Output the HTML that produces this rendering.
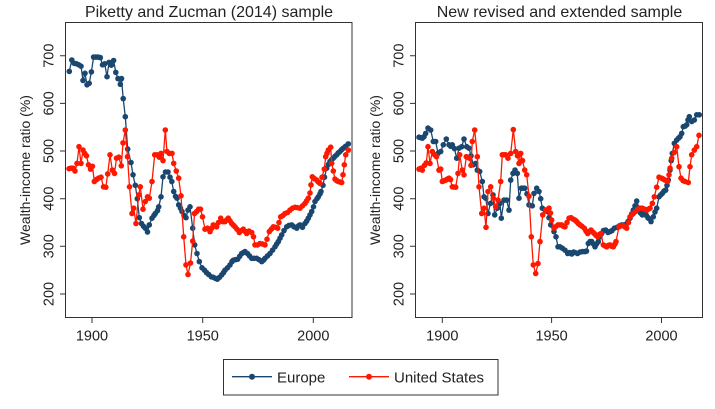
<!DOCTYPE html>
<html>
<head>
<meta charset="utf-8">
<style>
  html,body{margin:0;padding:0;background:#fff;}
  svg{display:block;}
  text{font-family:"Liberation Sans",Arial,sans-serif;fill:#222;}
</style>
</head>
<body>
<svg id="chart" width="715" height="409" viewBox="0 0 715 409" xmlns="http://www.w3.org/2000/svg">
  <rect x="0" y="0" width="715" height="409" fill="#fff"/>

  <!-- Titles -->
  <text x="209" y="17" font-size="16" text-anchor="middle">Piketty and Zucman (2014) sample</text>
  <text x="559.5" y="17" font-size="16" text-anchor="middle">New revised and extended sample</text>

  <!-- Frames -->
  <rect x="65.5" y="22.5" width="286.5" height="295" fill="none" stroke="#333" stroke-width="1"/>
  <rect x="415.5" y="22.5" width="287" height="295" fill="none" stroke="#333" stroke-width="1"/>

  <!-- Axis titles -->
  <text transform="translate(30,170) rotate(-90)" font-size="14" text-anchor="middle">Wealth-income ratio (%)</text>
  <text transform="translate(380,170) rotate(-90)" font-size="14" text-anchor="middle">Wealth-income ratio (%)</text>

  <!-- Y tick labels left -->
  <g font-size="14.5" text-anchor="middle">
    <text transform="translate(53.5,294) rotate(-90)">200</text>
    <text transform="translate(53.5,246.3) rotate(-90)">300</text>
    <text transform="translate(53.5,198.7) rotate(-90)">400</text>
    <text transform="translate(53.5,151) rotate(-90)">500</text>
    <text transform="translate(53.5,103.4) rotate(-90)">600</text>
    <text transform="translate(53.5,55.7) rotate(-90)">700</text>

    <text transform="translate(403.7,294) rotate(-90)">200</text>
    <text transform="translate(403.7,246.3) rotate(-90)">300</text>
    <text transform="translate(403.7,198.7) rotate(-90)">400</text>
    <text transform="translate(403.7,151) rotate(-90)">500</text>
    <text transform="translate(403.7,103.4) rotate(-90)">600</text>
    <text transform="translate(403.7,55.7) rotate(-90)">700</text>
  </g>

  <!-- X tick labels -->
  <g font-size="14.5" text-anchor="middle">
    <text x="92" y="340.7">1900</text>
    <text x="202.7" y="340.7">1950</text>
    <text x="313.3" y="340.7">2000</text>
    <text x="442.3" y="340.7">1900</text>
    <text x="551.6" y="340.7">1950</text>
    <text x="661.5" y="340.7">2000</text>
  </g>

  <!-- Ticks -->
  <g stroke="#333" stroke-width="1" fill="none">
    <path d="M60,294H66M60,246.3H66M60,198.7H66M60,151H66M60,103.4H66M60,55.7H66"/>
    <path d="M410,294H416M410,246.3H416M410,198.7H416M410,151H416M410,103.4H416M410,55.7H416"/>
    <path d="M92,317.5V323M202.7,317.5V323M313.3,317.5V323"/>
    <path d="M442.3,317.5V323M551.6,317.5V323M661.5,317.5V323"/>
  </g>

  <g id="series"></g>

  <!-- Legend -->
  <rect x="223.5" y="359.5" width="274.5" height="35.5" fill="#fff" stroke="#333" stroke-width="1"/>
  <line x1="232" y1="376.7" x2="272" y2="376.7" stroke="#1a476f" stroke-width="1.4"/>
  <circle cx="252" cy="376.7" r="3" fill="#1a476f"/>
  <text x="277" y="382.5" font-size="15">Europe</text>
  <line x1="349" y1="376.7" x2="389" y2="376.7" stroke="#ff1800" stroke-width="1.4"/>
  <circle cx="369" cy="376.7" r="3" fill="#ff1800"/>
  <text x="394" y="382.5" font-size="15">United States</text>
</svg>

<script>
(function(){
  var NS = "http://www.w3.org/2000/svg";
  function Y(v){ return 294 - (v-200)*0.4766; }

  var LE = [[69.3,667],[71.8,691],[74.2,684],[76.5,683],[78.8,681],[81,678],[83,648],[85,663],[87,639],[89.2,642],[91.4,666],[93.6,697],[95.8,697],[98,697],[100.3,696],[102.5,681],[104.7,683],[107,656],[109,686],[111.3,680],[113.6,690],[115.8,665],[118,652],[120.3,640],[121.5,652],[123.2,610],[125.3,572],[127.7,504],[131,476],[133,450],[135.3,428],[137.3,400],[139.3,360],[141.5,348],[143.5,342],[145.3,338],[147.5,330],[149.3,345],[152,359],[154,365],[155.3,369],[157.5,375],[158.7,383],[161,404],[163,446],[165.5,456],[168,456],[170,445],[171.8,436],[173.7,415],[175.5,405],[177,401],[178.7,387],[180.5,380],[182,373],[184,365],[186,360],[188,376],[190,383],[192.7,338],[194.7,303],[197,285],[199.3,268],[202,255],[204.5,250],[206.5,245],[208.7,241],[211.3,236],[213.3,235],[215.3,233],[217.3,231],[219.5,235],[221.7,240],[223.5,245],[225,250],[227.5,255],[230,261],[232,268],[233.3,271],[235.5,272],[237.7,273],[239.7,279],[241.7,285],[243.5,287],[245,289],[247.5,285],[249.5,280],[251.7,275],[254,275],[256.7,275],[259,272],[261.7,268],[263.5,271],[265,275],[267.5,280],[270,285],[272.5,292],[275,299],[276.7,305],[278.3,310],[280,317],[281.7,324],[284,333],[286.7,341],[289,344],[291.7,345],[294,341],[296.7,338],[298.5,343],[300,345],[302.5,340],[305,348],[306.7,353],[308.3,359],[310,366],[311.7,373],[313.5,383],[315,394],[317,400],[318.3,404],[320,410],[321,415],[323,428],[324.5,445],[326.7,464],[328.5,472],[330,478],[331.7,482],[333.3,485],[335,489],[336.7,492],[338.3,496],[340,499],[341.7,503],[343.3,506],[345.5,510],[348.3,515]];

  var LU = [[69,463],[71,464],[73,464],[75,458],[77,474],[79,509],[81,474],[83,502],[84.7,495],[86.5,490],[88.5,471],[90.5,462],[92.5,468],[94.3,436],[96.5,440],[98.5,443],[101,445],[103.5,425],[105.8,424],[107.7,452],[110,492],[112.3,460],[114.5,453],[116.5,485],[118.8,487],[121.3,469],[123,517],[125.3,544],[127.5,488],[129.5,425],[132,369],[133.7,380],[136,348],[138.7,408],[140.3,425],[143,378],[145.3,394],[147.5,404],[149.3,401],[152,436],[154.7,492],[157,492],[159.3,487],[161,495],[163,480],[165.3,544],[167,499],[169.3,495],[172,495],[173.7,474],[176.3,458],[178.7,443],[181,406],[183.7,320],[186,261],[188,241],[190.5,265],[192.7,311],[194.5,369],[196.7,373],[198.6,378],[200.5,378],[202.5,362],[205,336],[207.5,338],[210,331],[213.3,345],[216.7,341],[218.5,350],[220.7,359],[223,352],[225,352],[228.3,359],[231.7,348],[235,341],[237,336],[239.3,329],[241.5,333],[243.3,336],[246.7,327],[249,332],[251.7,329],[253.5,320],[255,303],[257.5,303],[260,306],[262.5,305],[265,303],[267,315],[269.3,331],[271.3,336],[273.3,341],[275.5,340],[277.7,338],[279,350],[280.7,362],[283,365],[285,369],[287.5,371],[290,376],[292.5,380],[295,382],[297.5,381],[300,380],[302.5,385],[305,390],[308.3,401],[310,412],[311,429],[312.3,446],[314.5,442],[316.7,439],[318.3,435],[320,432],[322,445],[324.3,462],[325.7,488],[327,495],[328.3,502],[330.7,508],[331.7,474],[333.3,458],[335,441],[336.7,438],[338.3,436],[340,435],[341.7,434],[343,450],[344.3,471],[345.7,492],[348.3,502]];

  var RE = [[419,529],[422.3,527],[424,530],[425.7,537],[428,548],[430.7,544],[433.3,520],[435.7,520],[438,495],[440.7,499],[443.3,513],[446.3,525],[449,513],[450.7,510],[452.3,513],[454.5,505],[456.7,485],[459,506],[461.7,509],[464,525],[466.7,509],[469,506],[471,490],[473.3,471],[475.7,474],[477.3,460],[479.7,457],[482.3,436],[484,404],[485.7,401],[488,369],[490.5,390],[493,408],[494.7,366],[497.3,380],[500,390],[501.3,359],[504,397],[506.7,397],[509,376],[510.7,439],[513,453],[515,460],[517.3,453],[519,401],[521.3,422],[524.7,422],[527,410],[529,387],[532.3,385],[534,411],[536.7,422],[539,415],[540.7,400],[542.3,380],[545,376],[547.3,373],[549,360],[550.7,345],[554,331],[556,320],[558,299],[560,299],[562.3,296],[565,292],[567.7,285],[569.5,287],[571.7,284],[573.5,288],[575,287],[577.5,285],[580,288],[582.5,289],[585,289],[586.5,290],[588.3,306],[590,310],[591.7,310],[593.5,305],[595,299],[596.5,305],[598.3,310],[600,320],[601.7,327],[603.5,333],[605.7,334],[608,329],[610,331],[612,333],[614.3,338],[617,340],[619.5,343],[621.7,345],[624,345],[626.5,347],[628,352],[630,359],[631.7,368],[633.3,376],[635,385],[636.7,395],[639,380],[640.5,370],[642.3,366],[644,370],[645.7,369],[647,363],[648.3,359],[651,352],[653.3,362],[655,372],[656.7,380],[659,404],[660.7,408],[662.3,411],[664,416],[665.7,418],[667,428],[668.3,439],[670,460],[671.2,480],[672.3,495],[674.3,516],[676.7,523],[678.5,527],[680,530],[681.7,537],[683.3,551],[685,552],[686.7,555],[688,565],[689.3,572],[691.7,562],[694.3,565],[696.7,576],[699.3,576]];

  var RU = [[419,462],[421,464],[422.3,460],[424.5,470],[426.3,475],[428,509],[430,474],[432.3,499],[434.7,492],[436.5,488],[439,460],[440.7,462],[442.3,436],[445.7,439],[449,443],[450.5,440],[452.3,425],[455.7,424],[458,453],[459.7,492],[462.3,460],[464,450],[466.3,488],[469.7,485],[471,470],[472.3,520],[474.7,544],[477.3,488],[479,425],[481.7,369],[484,380],[486,340],[488,415],[490.7,425],[493.3,401],[495.7,383],[498,397],[500.7,436],[502.3,492],[505.7,492],[508,485],[510.7,495],[513.3,545],[515.7,499],[517.5,490],[519,474],[520.7,495],[522.5,480],[524.7,460],[526.7,450],[529,405],[531.3,320],[533.3,261],[535.7,243],[538,264],[540,310],[542.7,366],[545.7,376],[549,380],[550.5,370],[551.7,355],[554,338],[555.5,341],[558,345],[561.7,345],[563.3,342],[565,341],[567,350],[569,359],[571,360],[573.3,357],[575,355],[576.7,352],[578.3,348],[580,345],[582,342],[584.3,338],[586,332],[587.7,327],[589.5,331],[591,334],[592.7,330],[594.3,327],[596,323],[597.7,320],[599.5,325],[601,327],[603.3,303],[605,301],[606.7,299],[608.3,302],[610,303],[611.7,300],[613.3,299],[615,305],[616,310],[619,341],[621,343],[623.3,343],[626.7,338],[628.5,350],[630,362],[631.7,366],[633.3,369],[635.5,373],[637.7,378],[640,380],[642.3,380],[644.5,378],[646.7,376],[648.3,378],[650,380],[652.3,390],[654.3,404],[656.7,424],[659,445],[661.7,443],[663.3,441],[665,439],[667.7,436],[669,450],[670,464],[671.7,485],[674.3,497],[676.7,509],[679,467],[681,443],[683,438],[685,436],[688.3,434],[690,467],[691.7,492],[694.3,502],[696.7,509],[699,533]];

  var g = document.getElementById("series");

  function draw(data, color){
    var pts = data.slice().sort(function(a,b){return a[0]-b[0];});
    var out = [];
    for (var i=0;i<pts.length;i++){
      if (i>0){
        var a=pts[i-1], b=pts[i], gap=b[0]-a[0];
        if (gap>3.3){
          var n=Math.round(gap/2.2);
          for (var k=1;k<n;k++){
            var t=k/n;
            out.push([a[0]+gap*t, a[1]+(b[1]-a[1])*t]);
          }
        }
      }
      out.push(pts[i]);
    }
    var d = out.map(function(p,i){return (i?"L":"M")+p[0].toFixed(1)+","+Y(p[1]).toFixed(1);}).join("");
    var path = document.createElementNS(NS,"path");
    path.setAttribute("d",d);
    path.setAttribute("fill","none");
    path.setAttribute("stroke",color);
    path.setAttribute("stroke-width","1.3");
    path.setAttribute("stroke-linejoin","round");
    g.appendChild(path);
    out.forEach(function(p){
      var c=document.createElementNS(NS,"circle");
      c.setAttribute("cx",p[0].toFixed(1));
      c.setAttribute("cy",Y(p[1]).toFixed(1));
      c.setAttribute("r","2.8");
      c.setAttribute("fill",color);
      g.appendChild(c);
    });
  }

  draw(LE,"#1a476f");
  draw(LU,"#ff1800");
  draw(RE,"#1a476f");
  draw(RU,"#ff1800");
})();
</script>
</body>
</html>
